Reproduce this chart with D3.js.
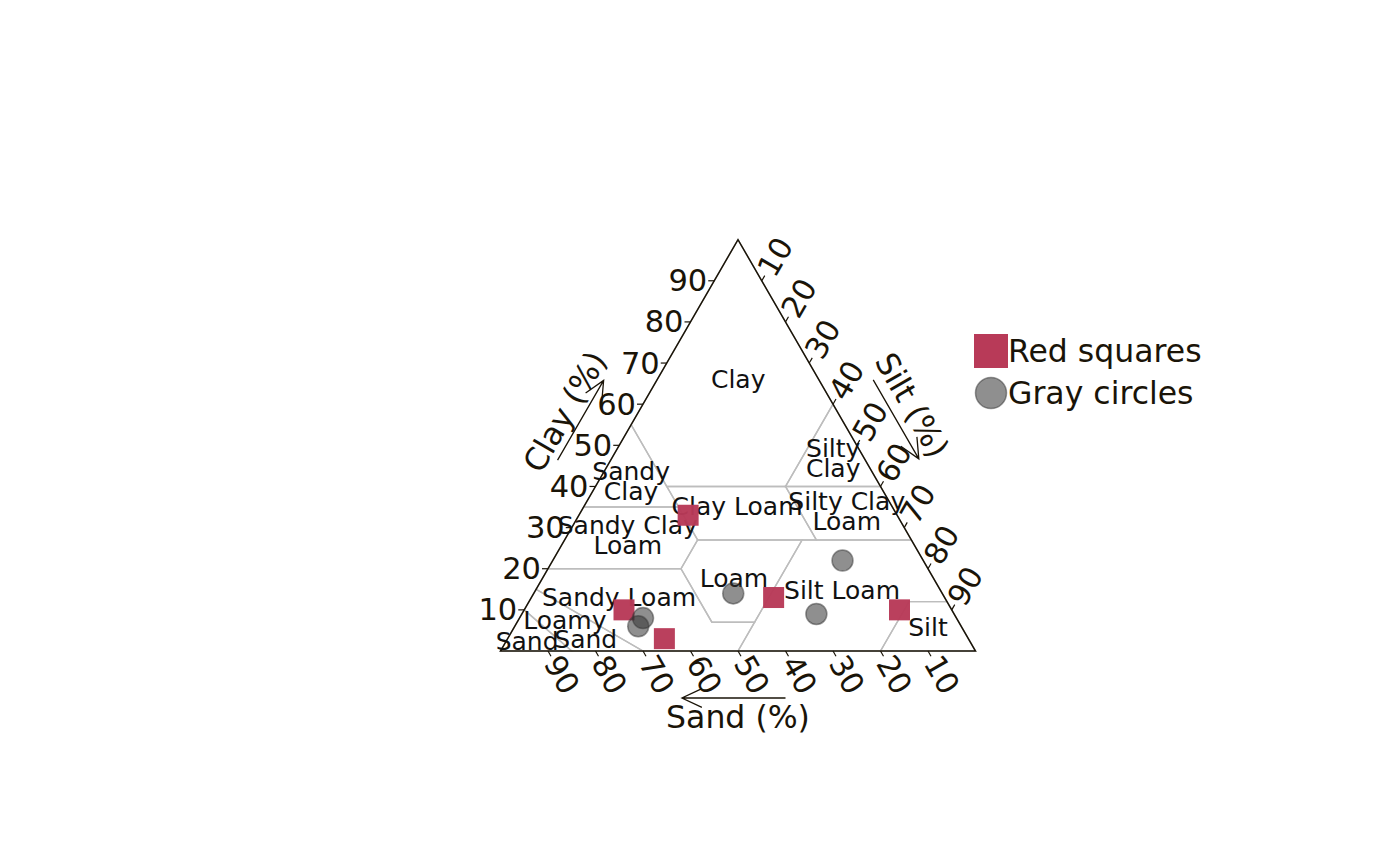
<!DOCTYPE html>
<html><head><meta charset="utf-8">
<script src="https://cdn.jsdelivr.net/npm/d3@7"></script>
<style>body{margin:0;background:#fff;} svg{display:block;font-family:"DejaVu Sans",sans-serif;}</style>
</head><body><svg id="c" width="1400" height="866"></svg>
<script>
// ---- data ----
const tickValues = [10,20,30,40,50,60,70,80,90];
const axisTitles = ["Clay (%)", "Silt (%)", "Sand (%)"];
const seriesNames = ["Red squares", "Gray circles"];
const redSand = [44,69,64,36,11];
const redSilt = [23,21,33,51,79];
const redClay = [33,10,3,13,10];
const graySand = [66,68,44,29,17];
const graySilt = [26,26,42,62,61];
const grayClay = [8,6,14,9,22];
// USDA texture class polygons, vertices as [sand, silt, clay]
const regionNames = ["Clay","Sandy Clay","Silty Clay","Clay Loam","Silty Clay Loam","Sandy Clay Loam","Loam","Silt Loam","Silt","Sandy Loam","Loamy Sand","Sand"];
const regionPolys = [
  [[0,0,100],[45,0,55],[45,15,40],[20,40,40],[0,40,60]],
  [[45,0,55],[65,0,35],[45,20,35]],
  [[0,40,60],[20,40,40],[0,60,40]],
  [[20,40,40],[45,15,40],[45,28,27],[20,53,27]],
  [[20,40,40],[0,60,40],[0,73,27],[20,53,27]],
  [[65,0,35],[45,20,35],[45,28,27],[52,28,20],[80,0,20]],
  [[45,28,27],[23,50,27],[43,50,7],[52,41,7],[52,28,20]],
  [[50,50,0],[43,50,7],[23,50,27],[0,73,27],[0,88,12],[8,80,12],[20,80,0]],
  [[20,80,0],[0,100,0],[0,88,12],[8,80,12]],
  [[70,30,0],[50,50,0],[43,50,7],[52,41,7],[52,28,20],[80,0,20],[85,0,15]],
  [[85,15,0],[70,30,0],[85,0,15],[90,0,10]],
  [[100,0,0],[90,0,10],[85,15,0]]
];
// region label lines and their centres (clay, silt)
const labelLines = [["Clay"],["Silty","Clay"],["Sandy","Clay"],["Clay Loam"],["Silty Clay","Loam"],["Sandy Clay","Loam"],["Loam"],["Silt Loam"],["Sandy Loam"],["Loamy"],["Sand"],["Sand"],["Silt"]];
const labelClay = [66.1,46.7,41.2,35.2,34.0,28.0,17.7,14.6,13.1,7.5,2.9,2.4,5.6];
const labelSilt = [17.0,46.7,6.9,32.2,55.9,12.8,40.3,64.6,18.4,9.8,16.5,4.4,87.2];

// ---- scales ----
const svg = d3.select("#c");
const X0 = 500.5, X1 = 975.5, YB = 651, YT = 651 - 475*Math.sqrt(3)/2;
const xs = d3.scaleLinear().domain([0,100]).range([X0, X1]);
const ys = d3.scaleLinear().domain([0,100]).range([YB, YT]);
const P = (silt, clay) => [xs(silt + clay/2), ys(clay)];
const ink = "#1a1408";

// regions
const line = d3.line();
svg.append("g").selectAll("path").data(regionPolys).join("path")
  .attr("d", d => line(d.map(v => P(v[1], v[2]))) + "Z")
  .attr("fill", "none").attr("stroke", "#bdbdbd").attr("stroke-width", 1.4);

// triangle
svg.append("path").attr("d", line([P(0,0), P(100,0), P(0,100)]) + "Z")
  .attr("fill","none").attr("stroke", ink).attr("stroke-width",1.5).attr("stroke-linejoin","miter");

// ticks
const TL = 6, c60 = 0.5, s60 = Math.sqrt(3)/2;
const tg = svg.append("g").attr("fill", ink).attr("font-size", 30.5);
tickValues.forEach(v => {
  // clay (left edge)
  let p = P(0, v);
  tg.append("line").attr("x1",p[0]).attr("y1",p[1]).attr("x2",p[0]-TL).attr("y2",p[1]).attr("stroke",ink).attr("stroke-width",1.2);
  tg.append("text").attr("x",p[0]-TL-1).attr("y",p[1]).attr("text-anchor","end").attr("dominant-baseline","central").text(v);
  // sand (bottom edge)
  p = P(100 - v, 0);
  let e = [p[0] + TL*c60, p[1] + TL*s60];
  tg.append("line").attr("x1",p[0]).attr("y1",p[1]).attr("x2",e[0]).attr("y2",e[1]).attr("stroke",ink).attr("stroke-width",1.2);
  tg.append("text").attr("transform",`translate(${e[0]+2*c60},${e[1]+2*s60}) rotate(60)`).attr("text-anchor","start").attr("dominant-baseline","central").text(v);
  // silt (right edge)
  p = P(v, 100 - v);
  e = [p[0] + TL*c60, p[1] - TL*s60];
  tg.append("line").attr("x1",p[0]).attr("y1",p[1]).attr("x2",e[0]).attr("y2",e[1]).attr("stroke",ink).attr("stroke-width",1.2);
  tg.append("text").attr("transform",`translate(${e[0]+2*c60},${e[1]-2*s60}) rotate(-60)`).attr("text-anchor","start").attr("dominant-baseline","central").text(v);
});

// axis arrows + titles
function arrow(a, b) {
  const dx = b[0]-a[0], dy = b[1]-a[1], L = Math.hypot(dx,dy), ux = dx/L, uy = dy/L;
  const h = 22, ang = 25*Math.PI/180;
  const r = (t) => [b[0] - h*(ux*Math.cos(t) - uy*Math.sin(t)), b[1] - h*(ux*Math.sin(t) + uy*Math.cos(t))];
  const p1 = r(ang), p2 = r(-ang);
  svg.append("path").attr("d", `M${a}L${b}M${p1}L${b}L${p2}`).attr("fill","none").attr("stroke",ink).attr("stroke-width",1.3);
}
function edgePt(A, B, t, n, off) { return [A[0] + t*(B[0]-A[0]) + off*n[0], A[1] + t*(B[1]-A[1]) + off*n[1]]; }
const LEFT = P(0,0), RIGHT = P(100,0), TOP = P(0,100);
const nL = [-s60, -0.5], nR = [s60, -0.5], nB = [0, 1];
arrow(edgePt(LEFT, TOP, 0.408, nL, 46), edgePt(LEFT, TOP, 0.602, nL, 46));
let tp = edgePt(LEFT, TOP, 0.504, nL, 64);
svg.append("text").attr("transform",`translate(${tp}) rotate(-60)`).attr("text-anchor","middle").attr("dominant-baseline","central").attr("font-size",31.5).attr("fill",ink).text(axisTitles[0]);
arrow(edgePt(TOP, RIGHT, 0.398, nR, 47), edgePt(TOP, RIGHT, 0.59, nR, 47));
tp = edgePt(TOP, RIGHT, 0.485, nR, 68);
svg.append("text").attr("transform",`translate(${tp}) rotate(60)`).attr("text-anchor","middle").attr("dominant-baseline","central").attr("font-size",31.5).attr("fill",ink).text(axisTitles[1]);
arrow(edgePt(RIGHT, LEFT, 0.4, nB, 47), edgePt(RIGHT, LEFT, 0.618, nB, 47));
tp = edgePt(RIGHT, LEFT, 0.5, nB, 66);
svg.append("text").attr("transform",`translate(${tp})`).attr("text-anchor","middle").attr("dominant-baseline","central").attr("font-size",31.5).attr("fill",ink).text(axisTitles[2]);

// region labels
const lg = svg.append("g").attr("font-size",25).attr("fill","#111").attr("text-anchor","middle");
labelLines.forEach((lines, i) => {
  const c = P(labelSilt[i], labelClay[i]);
  const n = lines.length, sp = 20;
  lines.forEach((t, j) => {
    lg.append("text").attr("x", c[0]).attr("y", c[1] + (j - (n-1)/2)*sp).attr("dominant-baseline","central").text(t);
  });
});

// points
const redColor = "#b83a58";
const sq = 21;
svg.append("g").selectAll("rect").data(d3.range(redSand.length)).join("rect")
  .attr("x", i => P(redSilt[i], redClay[i])[0] - sq/2)
  .attr("y", i => P(redSilt[i], redClay[i])[1] - sq/2)
  .attr("width", sq).attr("height", sq).attr("fill", redColor).attr("fill-opacity",0.97);
svg.append("g").selectAll("circle").data(d3.range(graySand.length)).join("circle")
  .attr("cx", i => P(graySilt[i], grayClay[i])[0])
  .attr("cy", i => P(graySilt[i], grayClay[i])[1])
  .attr("r", 10.5).attr("fill", "rgba(51,51,51,0.55)").attr("stroke","rgba(51,51,51,0.5)").attr("stroke-width",1.5);

// legend
const leg = svg.append("g");
leg.append("rect").attr("x",974).attr("y",334).attr("width",34).attr("height",34).attr("fill",redColor);
leg.append("circle").attr("cx",991).attr("cy",393).attr("r",15.5).attr("fill","rgba(51,51,51,0.55)").attr("stroke","rgba(51,51,51,0.5)").attr("stroke-width",1.5);
leg.append("text").attr("x",1008).attr("y",351).attr("dominant-baseline","central").attr("font-size",31.5).attr("fill",ink).text(seriesNames[0]);
leg.append("text").attr("x",1008).attr("y",393).attr("dominant-baseline","central").attr("font-size",31.5).attr("fill",ink).text(seriesNames[1]);
</script></body></html>
